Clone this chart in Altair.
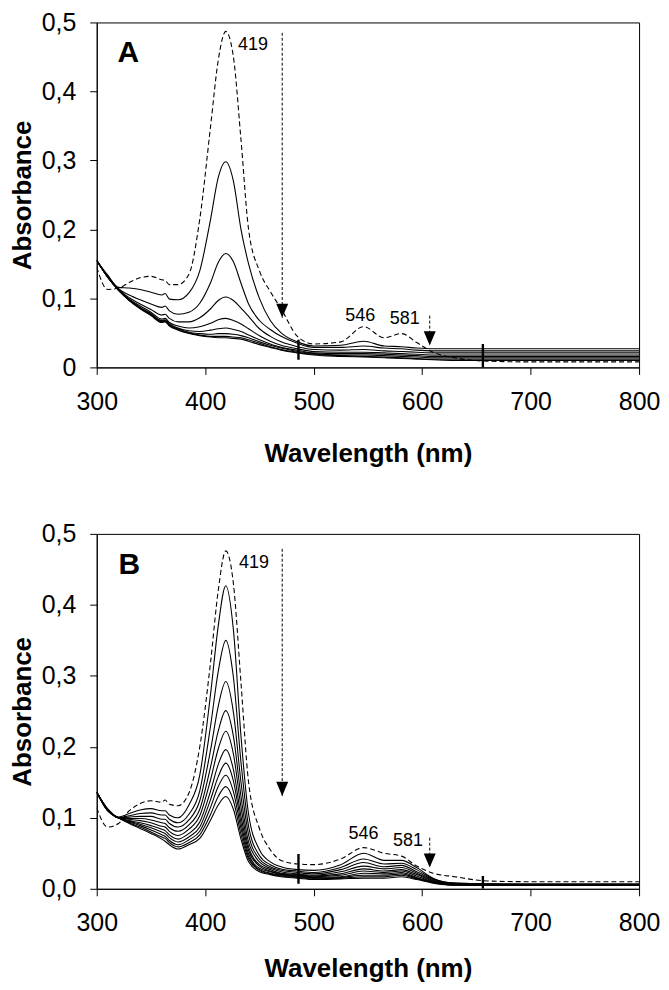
import altair as alt
import pandas as pd

# wavelength grid (nm) at which the curves were read
wl = [300, 310, 320, 330, 340, 350, 360, 363, 367, 375, 385, 395, 405, 412, 419, 426, 433,
      440, 450, 460, 470, 485, 500, 525, 546, 565, 581, 595, 610, 630, 660, 700, 800]

# ---------------- Panel A ----------------
a_dashed = [.145, .113, .115, .123, .130, .132, .127, .126, .120, .120, .135, .215, .350, .445, .487, .450, .330,
            .200, .140, .110, .085, .045, .034, .037, .059, .043, .049, .036, .022, .014, .009, .008, .008]
a_solid = [
    [.155, .134, .116, .115, .113, .109, .105, .107, .099, .098, .108, .140, .215, .275, .298, .270, .200,
     .150, .100, .068, .050, .037, .031, .032, .038, .031, .030, .028, .027, .027, .027, .027, .027],
    [.155, .133, .114, .105, .098, .092, .087, .089, .082, .077, .080, .093, .123, .152, .165, .153, .122,
     .092, .068, .055, .045, .035, .029, .029, .031, .028, .027, .025, .024, .024, .024, .024, .024],
    [.155, .132, .113, .101, .092, .084, .076, .077, .071, .066, .066, .072, .085, .097, .102, .097, .086,
     .074, .056, .045, .037, .030, .026, .025, .026, .024, .023, .022, .021, .021, .021, .021, .021],
    [.155, .131, .113, .099, .089, .080, .070, .071, .065, .060, .057, .059, .064, .069, .071, .068, .063,
     .056, .046, .038, .032, .027, .023, .022, .022, .021, .020, .019, .018, .018, .018, .018, .018],
    [.155, .131, .112, .098, .087, .078, .068, .069, .063, .057, .053, .052, .054, .056, .057, .055, .052,
     .047, .040, .034, .029, .025, .021, .020, .020, .019, .018, .017, .016, .016, .016, .016, .016],
    [.155, .131, .112, .098, .086, .077, .067, .068, .062, .056, .051, .049, .048, .049, .049, .048, .046,
     .043, .037, .032, .028, .023, .020, .018, .018, .017, .016, .015, .014, .014, .014, .014, .014],
    [.155, .131, .112, .097, .086, .076, .066, .067, .061, .055, .050, .047, .045, .045, .045, .044, .043,
     .040, .035, .030, .026, .022, .019, .017, .016, .015, .014, .013, .012, .012, .012, .012, .012],
    [.155, .131, .112, .097, .085, .075, .065, .066, .060, .054, .049, .046, .044, .043, .043, .042, .041,
     .038, .033, .029, .025, .021, .018, .016, .015, .014, .013, .012, .011, .010, .010, .010, .010],
]

# ---------------- Panel B ----------------
b_dashed = [.114, .087, .092, .110, .120, .124, .122, .125, .119, .117, .135, .200, .320, .420, .476, .430, .290,
            .150, .085, .055, .040, .035, .034, .042, .058, .050, .046, .032, .022, .017, .011, .010, .010]
b_solid = [
    [.136, .113, .101, .106, .111, .113, .110, .110, .104, .100, .118, .160, .275, .370, .427, .365, .215,
     .105, .055, .038, .031, .027, .026, .034, .050, .040, .040, .030, .015, .008, .007, .007, .007],
    [.136, .112, .100, .103, .106, .107, .104, .104, .098, .093, .105, .138, .230, .306, .350, .298, .178,
     .088, .047, .034, .028, .025, .023, .030, .042, .035, .036, .027, .014, .008, .007, .006, .006],
    [.136, .112, .100, .101, .102, .102, .098, .098, .092, .087, .097, .124, .196, .257, .292, .249, .150,
     .076, .042, .031, .026, .023, .021, .027, .037, .031, .033, .024, .013, .007, .006, .006, .006],
    [.136, .112, .100, .099, .099, .097, .093, .092, .086, .081, .090, .112, .172, .222, .251, .215, .130,
     .066, .038, .029, .024, .021, .019, .024, .032, .028, .030, .022, .012, .007, .006, .006, .006],
    [.136, .111, .100, .098, .096, .093, .088, .087, .081, .075, .084, .103, .154, .197, .222, .190, .115,
     .059, .034, .027, .022, .020, .018, .021, .028, .025, .027, .020, .011, .007, .006, .005, .005],
    [.136, .111, .100, .096, .093, .089, .084, .082, .076, .070, .078, .094, .138, .175, .196, .168, .102,
     .054, .032, .025, .021, .019, .017, .019, .025, .023, .025, .018, .010, .006, .006, .005, .005],
    [.136, .111, .100, .095, .091, .086, .080, .078, .072, .066, .073, .087, .126, .158, .177, .152, .093,
     .049, .029, .024, .020, .018, .016, .017, .022, .021, .023, .016, .010, .006, .005, .005, .005],
    [.136, .110, .100, .094, .089, .083, .076, .074, .068, .062, .069, .081, .115, .144, .160, .137, .085,
     .045, .027, .022, .019, .017, .015, .016, .019, .019, .021, .015, .009, .006, .005, .005, .005],
    [.136, .110, .100, .093, .087, .080, .073, .071, .065, .059, .065, .076, .105, .130, .144, .124, .077,
     .042, .026, .021, .018, .016, .014, .015, .017, .017, .019, .014, .009, .005, .005, .005, .005],
    [.136, .110, .100, .092, .085, .078, .070, .067, .062, .056, .062, .071, .097, .118, .130, .112, .070,
     .038, .024, .020, .017, .015, .013, .014, .015, .015, .017, .013, .008, .005, .005, .005, .005],
]

# instrument spikes (lamp change)
spike_wl = [486, 656]
a_spike_lo = [0.011, 0.0]
a_spike_hi = [0.040, 0.034]
b_spike_lo = [0.007, 0.0]
b_spike_hi = [0.049, 0.018]

# annotations
ann_labels = ["419", "546", "581"]
a_ann_x = [444, 543, 584]
a_ann_y = [0.468, 0.075, 0.070]
b_ann_x = [445, 546, 587]
b_ann_y = [0.459, 0.0765, 0.0674]

# arrows (x, top, tip)
arrow_x = [471, 607]
a_arrow_top = [0.485, 0.075]
a_arrow_tip = [0.072, 0.032]
b_arrow_top = [0.479, 0.072]
b_arrow_tip = [0.131, 0.030]

a_letter = ("A", 329, 0.456)
b_letter = ("B", 330, 0.456)

FONT = "Liberation Sans"
ARROW_SHAPE = "M-0.85,-1L0.85,-1L0,1Z"


def curves_df(solid, dashed):
    rows = []
    for i, s in enumerate(solid):
        for w, v in zip(wl, s):
            rows.append({"wl": w, "A": v, "curve": f"s{i}"})
    df_s = pd.DataFrame(rows)
    df_d = pd.DataFrame({"wl": wl, "A": dashed, "curve": "dashed"})
    return df_s, df_d


def panel(solid, dashed, spike_lo, spike_hi, ann_x, ann_y, arr_top, arr_tip, letter,
          height, zero_label, x_title_pad):
    df_s, df_d = curves_df(solid, dashed)
    if zero_label:
        lab = "datum.value == 0 ? '0' : replace(format(datum.value, '.1f'), '.', ',')"
    else:
        lab = "replace(format(datum.value, '.1f'), '.', ',')"
    xs = alt.Scale(domain=[300, 800], nice=False, zero=False)
    ys = alt.Scale(domain=[0, 0.5], nice=False)
    xax = alt.Axis(values=[300, 400, 500, 600, 700, 800], title="Wavelength (nm)",
                   labelPadding=15, titlePadding=x_title_pad, format="d", labelFlush=False)
    yax = alt.Axis(values=[0, 0.1, 0.2, 0.3, 0.4, 0.5], title="Absorbance",
                   labelExpr=lab, labelPadding=14, titlePadding=6)
    X = alt.X("wl:Q", scale=xs, axis=xax)
    Y = alt.Y("A:Q", scale=ys, axis=yax)

    solid_l = alt.Chart(df_s).mark_line(interpolate="monotone", color="black",
                                        strokeWidth=1.1, clip=True).encode(
        x=X, y=Y, detail="curve:N")
    dashed_l = alt.Chart(df_d).mark_line(interpolate="monotone", color="black",
                                         strokeWidth=1.1, strokeDash=[5, 3], clip=True).encode(
        x="wl:Q", y="A:Q")
    spikes = alt.Chart(pd.DataFrame({"wl": spike_wl, "lo": spike_lo, "hi": spike_hi})).mark_rule(
        color="black", strokeWidth=2.4, clip=True).encode(x="wl:Q", y="lo:Q", y2="hi:Q")
    arr_df = pd.DataFrame({"wl": arrow_x, "top": arr_top, "tip": arr_tip})
    shafts = alt.Chart(arr_df).mark_rule(color="black", strokeWidth=1, strokeDash=[3, 2]).encode(
        x="wl:Q", y="top:Q", y2="tip:Q")
    heads = alt.Chart(arr_df).mark_point(shape=ARROW_SHAPE, filled=True, color="black",
                                         opacity=1, size=200, yOffset=-7).encode(
        x="wl:Q", y="tip:Q")
    texts = alt.Chart(pd.DataFrame({"t": ann_labels, "wl": ann_x, "A": ann_y})).mark_text(
        font=FONT, fontSize=18, color="black", align="center", baseline="middle").encode(
        x="wl:Q", y="A:Q", text="t:N")
    let = alt.Chart(pd.DataFrame({"t": [letter[0]], "wl": [letter[1]], "A": [letter[2]]})).mark_text(
        font=FONT, fontSize=30, fontWeight="bold", color="black", align="center",
        baseline="middle").encode(x="wl:Q", y="A:Q", text="t:N")
    return alt.layer(solid_l, dashed_l, spikes, shafts, heads, texts, let).properties(
        width=544, height=height)


pa = panel(a_solid, a_dashed, a_spike_lo, a_spike_hi, a_ann_x, a_ann_y,
           a_arrow_top, a_arrow_tip, a_letter, 346, True, 26)
pb = panel(b_solid, b_dashed, b_spike_lo, b_spike_hi, b_ann_x, b_ann_y,
           b_arrow_top, b_arrow_tip, b_letter, 356, False, 20)

chart = alt.vconcat(pa, pb, spacing=54).properties(
    padding={"left": 0, "top": 0, "right": 0, "bottom": 0}
).configure_view(
    stroke="black", strokeWidth=1
).configure_axis(
    labelFont=FONT, labelFontSize=25, labelColor="black",
    titleFont=FONT, titleFontSize=26, titleFontWeight="bold", titleColor="black",
    tickSize=7, tickColor="black", tickWidth=1, domainColor="black", domainWidth=1,
    grid=False
)

chart.save("out.html", embed_options={"renderer": "svg", "actions": False})
